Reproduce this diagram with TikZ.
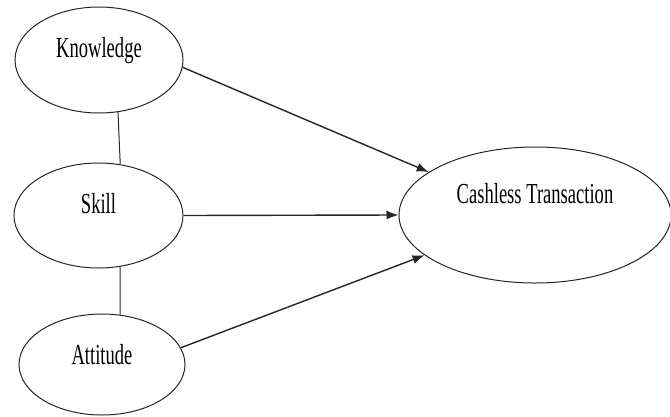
\documentclass[tikz,border=0pt]{standalone}
\usepackage{fontspec}
\setmainfont{Liberation Serif}[FakeStretch=0.64]
\usepackage{tikz}
\usetikzlibrary{arrows.meta, positioning, shapes.geometric}

\begin{document}
\begin{tikzpicture}[
  x=1pt, y=-1pt,
  oval/.style={ellipse, draw=black!85, line width=1pt, inner sep=0pt,
               font=\fontsize{29}{32}\selectfont, text height=20pt},
  link/.style={draw=black!85, line width=1pt},
  arr/.style={-{Latex[length=12pt, width=9pt]}, line width=1.4pt, color=black!85},
]
\useasboundingbox (0,0) rectangle (670,416);

\node[oval, minimum width=168pt, minimum height=106pt, text depth=26pt]
  (know) at (99,60) {Knowledge};
\node[oval, minimum width=169pt, minimum height=105pt, text depth=25pt,
      below=49pt of know, xshift=-0.5pt] (skill) {Skill};
\node[oval, minimum width=166pt, minimum height=101pt, text depth=21pt,
      below=45pt of skill, xshift=3.5pt] (att) {Attitude};
\node[oval, minimum width=272pt, minimum height=136pt, text depth=44pt]
  (cash) at (535,215) {Cashless Transaction};

% correlations
\draw[link] (know.-70) -- (skill.67);
\draw[link] (skill.-67) -- (att.70);

% paths
\draw[arr] (know.-5)  -- (cash.158);
\draw[arr] (skill.east) -- (cash.west);
\draw[arr] (att.12)   -- (cash.200);
\end{tikzpicture}
\end{document}
